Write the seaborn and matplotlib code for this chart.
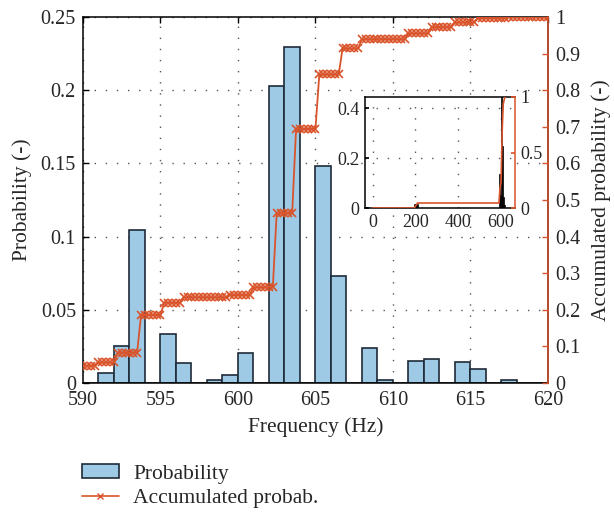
import numpy as np
import pandas as pd
import seaborn as sns
import matplotlib.pyplot as plt
from matplotlib.ticker import FuncFormatter
from matplotlib.patches import Patch
from matplotlib.lines import Line2D

# ---------------- data ----------------
bar_center = [591.5, 592.5, 593.5, 595.5, 596.5, 598.5, 599.5, 600.5, 602.5,
              603.5, 605.5, 606.5, 608.5, 609.5, 611.5, 612.5, 614.5, 615.5, 617.5]
bar_prob = [0.007, 0.025, 0.1045, 0.0335, 0.0134, 0.002, 0.0052, 0.0207, 0.203,
            0.2297, 0.1484, 0.0733, 0.0237, 0.002, 0.0148, 0.0164, 0.0141, 0.0093, 0.0018]

cum_freq = np.arange(590, 620.001, 0.25)
cum_prob = [
    0.047, 0.047, 0.047, 0.047,
    0.056, 0.056, 0.056, 0.056, 0.056,
    0.083, 0.083, 0.083, 0.083, 0.083, 0.083,
    0.186, 0.186, 0.186, 0.186, 0.186, 0.186,
    0.219, 0.219, 0.219, 0.219, 0.219,
    0.234, 0.234, 0.234, 0.234, 0.234, 0.234, 0.234, 0.234, 0.234, 0.234, 0.234, 0.234,
    0.240, 0.240, 0.240, 0.240, 0.240, 0.240,
    0.261, 0.261, 0.261, 0.261, 0.261, 0.261,
    0.464, 0.464, 0.464, 0.464, 0.464,
    0.694, 0.694, 0.694, 0.694, 0.694, 0.694,
    0.843, 0.843, 0.843, 0.843, 0.843, 0.843,
    0.914, 0.914, 0.914, 0.914, 0.914,
    0.939, 0.939, 0.939, 0.939, 0.939, 0.939, 0.939, 0.939, 0.939, 0.939, 0.939, 0.939,
    0.955, 0.955, 0.955, 0.955, 0.955, 0.955,
    0.972, 0.972, 0.972, 0.972, 0.972, 0.972,
    0.985, 0.985, 0.985, 0.985, 0.985, 0.985,
    0.997, 0.997, 0.997, 0.997, 0.997, 0.997, 0.997, 0.997,
    1.000, 1.000, 1.000, 1.000, 1.000, 1.000, 1.000, 1.000, 1.000, 1.000, 1.000,
]

inset_center = [197.5, 202.5, 207.5, 592.5, 597.5, 602.5, 607.5, 612.5, 617.5]
inset_prob = [0.015, 0.015, 0.015, 0.137, 0.054, 0.453, 0.247, 0.045, 0.011]
inset_cum_freq = [0, 195, 200, 205, 210, 590, 595, 600, 605, 610, 615, 620]
inset_cum_prob = [0, 0, 0.015, 0.03, 0.045, 0.045, 0.182, 0.236, 0.689, 0.936, 0.981, 1.0]

x_ticks = [590, 595, 600, 605, 610, 615, 620]
y_ticks = [0, 0.05, 0.1, 0.15, 0.2, 0.25]
y2_ticks = [0, 0.1, 0.2, 0.3, 0.4, 0.5, 0.6, 0.7, 0.8, 0.9, 1]

# ---------------- style ----------------
sns.set_theme(style='white')
plt.rcParams['font.family'] = ['Liberation Serif', 'DejaVu Serif']

bar_face = '#9ECAE6'
bar_edge = '#1E2B38'
orange = '#D9542B'
grid_kw = dict(color='#555555', linestyle=(0, (1, 7)), linewidth=1.0)
fmt = FuncFormatter(lambda v, p: f'{v:g}')
TICK = 14.5
LAB = 15.5

fig = plt.figure(figsize=(6.14, 5.14), dpi=100)
ax = fig.add_axes([0.135, 0.2549, 0.7575, 0.7121])

sns.histplot(x=bar_center, weights=bar_prob, binwidth=1, binrange=(590, 620),
             ax=ax, color=bar_face, edgecolor=bar_edge, linewidth=1.2, alpha=1)
ax.set_xlim(590, 620)
ax.set_ylim(0, 0.25)
ax.set_xticks(x_ticks)
ax.set_yticks(y_ticks)
ax.yaxis.set_major_formatter(fmt)
ax.set_axisbelow(True)
ax.grid(True, **grid_kw)
ax.tick_params(direction='in', top=True, labelsize=TICK, length=4, width=1,
               color='black', pad=6)
ax.tick_params(axis='y', right=False, pad=5)
for s in ax.spines.values():
    s.set_color('black')
    s.set_linewidth(1.1)
ax.set_xlabel('Frequency (Hz)', fontsize=LAB, labelpad=5)
ax.set_ylabel('Probability (-)', fontsize=LAB, labelpad=6)

ax2 = ax.twinx()
sns.lineplot(x=cum_freq, y=cum_prob, ax=ax2, color=orange, marker='x',
             markersize=5.5, markeredgewidth=1.2, markeredgecolor=orange,
             markerfacecolor=orange, linewidth=1.3)
ax2.set_ylim(0, 1)
ax2.set_yticks(y2_ticks)
ax2.yaxis.set_major_formatter(fmt)
ax2.tick_params(axis='y', direction='in', labelsize=TICK, length=4, width=1,
                color=orange, pad=5)
ax2.spines['right'].set_color(orange)
ax2.spines['right'].set_linewidth(1.1)
for k in ['left', 'top', 'bottom']:
    ax2.spines[k].set_visible(False)
ax2.set_ylabel('Accumulated probability (-)', fontsize=LAB, labelpad=8)
ax2.set_xlim(590, 620)

# ---------------- inset ----------------
axi = fig.add_axes([0.5945, 0.5953, 0.2443, 0.216])
axi.set_facecolor('white')
sns.histplot(x=inset_center, weights=inset_prob, binwidth=5, binrange=(195, 620),
             ax=axi, color='black', edgecolor='black', linewidth=0.5, alpha=1)
axi.set_xlim(-35, 665)
axi.set_ylim(0, 0.445)
axi.set_xticks([0, 200, 400, 600])
axi.set_yticks([0, 0.2, 0.4])
axi.yaxis.set_major_formatter(fmt)
axi.set_axisbelow(True)
axi.grid(True, **grid_kw)
axi.tick_params(direction='in', labelsize=13, length=3, color='black', pad=4)
axi.set_xlabel('')
axi.set_ylabel('')
for s in axi.spines.values():
    s.set_color('black')
    s.set_linewidth(1.1)
axi.spines['right'].set_visible(False)

axi2 = axi.twinx()
sns.lineplot(x=inset_cum_freq, y=inset_cum_prob, ax=axi2, color=orange, linewidth=1.2)
axi2.set_ylim(0, 1)
axi2.set_xlim(-35, 665)
axi2.set_yticks([0, 0.5, 1])
axi2.yaxis.set_major_formatter(fmt)
axi2.tick_params(axis='y', direction='in', labelsize=13, length=3, color=orange, pad=4)
axi2.spines['right'].set_color(orange)
axi2.spines['right'].set_linewidth(1.1)
for k in ['left', 'top', 'bottom']:
    axi2.spines[k].set_visible(False)
axi2.set_ylabel('')

# ---------------- legend ----------------
handles = [Patch(facecolor=bar_face, edgecolor=bar_edge, linewidth=1.2, label='Probability'),
           Line2D([], [], color=orange, marker='x', markersize=5, linewidth=1.2,
                  label='Accumulated probab.')]
fig.legend(handles=handles, loc='upper left', bbox_to_anchor=(0.133, 0.097),
           frameon=False, fontsize=LAB, handlelength=1.75, handleheight=0.6,
           handletextpad=0.65, labelspacing=0.25, borderpad=0, borderaxespad=0)

fig.savefig('out.png', dpi=100)
